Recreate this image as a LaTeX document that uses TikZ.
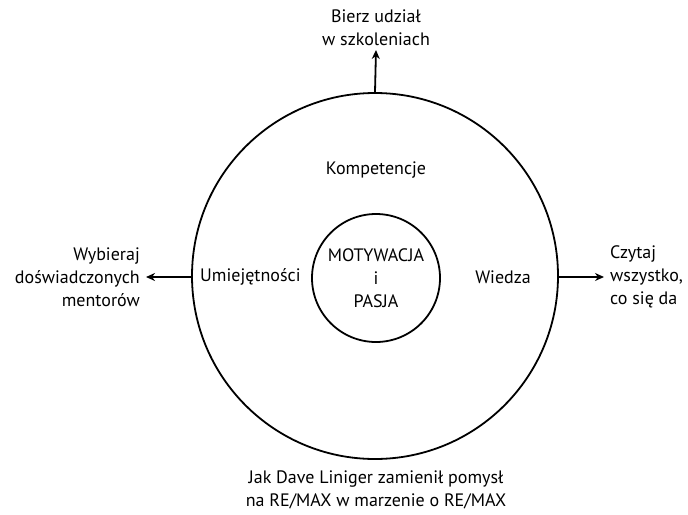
\documentclass[tikz,border=0pt]{standalone}
\usepackage{fontspec}
\setmainfont{PT Sans}
\usetikzlibrary{arrows.meta}
\begin{document}
\begin{tikzpicture}[x=1pt,y=-1pt,
  ring/.style={circle,draw,line width=1.8pt,inner sep=0pt},
  lbl/.style={font=\fontsize{18}{23}\selectfont,inner sep=0pt,align=center},
  arr/.style={line width=1.8pt,-{Stealth[length=9pt,width=8pt]}}]
\useasboundingbox (0,0) rectangle (688,514);
\node[ring,minimum size=366pt] (outer) at (375,276) {};
\node[ring,minimum size=128pt,lbl] (inner) at (376,278) {MOTYWACJA\\i\\PASJA};
\node[lbl] (komp) at (376,170) {Kompetencje};
\node[lbl,anchor=west] (umie) at (200,277) {Umiejętności};
\node[lbl,anchor=east] (wied) at (531,277) {Wiedza};
\node[lbl] (bierz) at (376,28) {Bierz udział\\w szkoleniach};
\node[lbl,align=right,anchor=east] (wyb) at (140,277) {Wybieraj\\doświadczonych\\mentorów};
\node[lbl,align=left,anchor=west] (czyt) at (610,277) {Czytaj\\wszystko,\\co się da};
\node[lbl] (jak) at (376,490) {Jak Dave Liniger zamienił pomysł\\na RE/MAX w marzenie o RE/MAX};
\coordinate (topend) at (376,50);
\coordinate (leftend) at (146,277);
\coordinate (rightend) at (604,277);
\draw[arr] (outer.north) -- (topend);
\draw[arr] (outer.west |- leftend) -- (leftend);
\draw[arr] (outer.east |- rightend) -- (rightend);
\end{tikzpicture}
\end{document}
